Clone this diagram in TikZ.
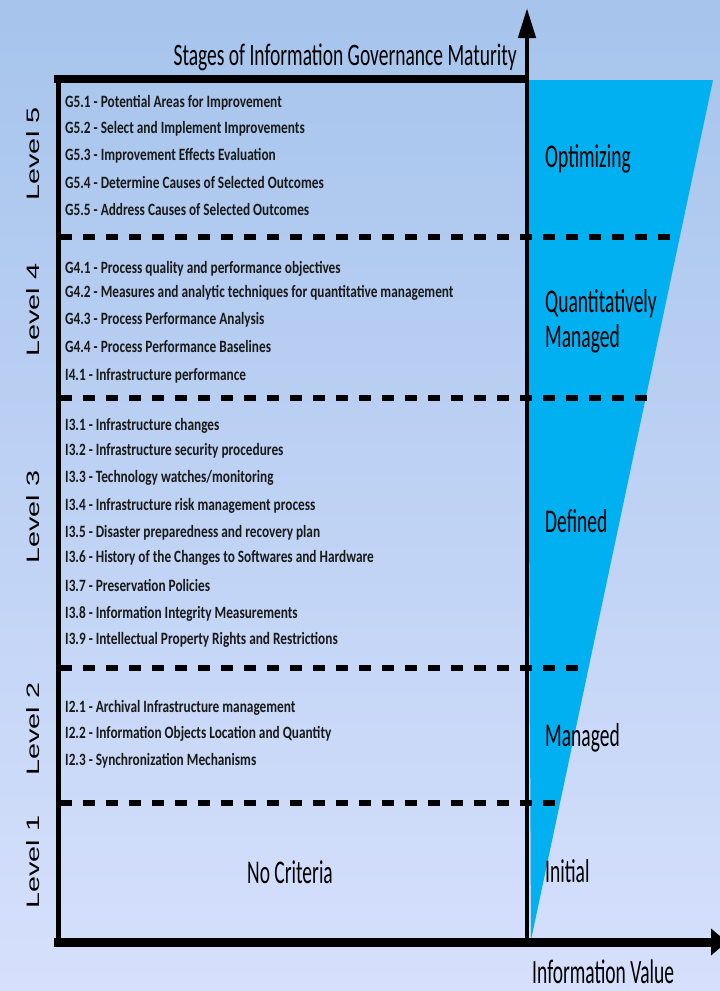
\documentclass[tikz,border=0pt]{standalone}
\usepackage{tikz}
\usetikzlibrary{arrows.meta}
\usepackage{xcolor}
\usepackage{graphicx}
\usepackage{fontspec}
\setmainfont{Carlito}
\newfontfamily\levelfont{Liberation Sans}
\definecolor{bgtop}{RGB}{166,196,236}
\definecolor{bgbot}{RGB}{214,224,252}
\definecolor{valueblue}{RGB}{0,176,240}
\newcommand{\tallish}[2][1.6]{\scalebox{1}[#1]{#2}}
\newcommand{\wideish}[1]{\scalebox{1.6}[1]{#1}}

\begin{document}
\begin{tikzpicture}[
  x=1pt, y=-1pt,
  level/.style={rotate=90, inner sep=0pt, font=\levelfont\fontsize{18}{20}\selectfont},
  item/.style={anchor=base west, inner sep=0pt, text=black!90,
    font=\bfseries\fontsize{13.3}{15}\selectfont},
  stage/.style={anchor=base west, inner sep=0pt, font=\fontsize{19.5}{23}\selectfont},
  divider/.style={line width=6pt, dash pattern=on 12pt off 11pt},
  >={Triangle[length=30pt,width=17pt]}
]
  \useasboundingbox (0,0) rectangle (720,991);
  \shade[top color=bgtop, bottom color=bgbot] (0,0) rectangle (720,991);

  % value wedge
  \fill[valueblue] (527,80) -- (713,80) -- (531,940) -- cycle;

  % level dividers
  \foreach \y/\xe in {237/680, 398/648, 668/587, 803/558}
    \draw[divider] (60,\y) -- (\xe,\y);

  % frame and axes
  \coordinate (topleft) at (58,79);
  \coordinate (origin) at (527,942);
  \draw[line width=8pt] (54,79) -- (529,79);
  \draw[line width=5pt] (58,76) -- (58,946);
  \draw[line width=4.5pt, ->] (527,946) -- (527,8);
  \draw[line width=9pt, -{Triangle[length=16pt,width=26pt]}] (54,942) -- (727,942);

  % titles
  \node[stage, anchor=base east] (title) at (517,65)
    {\tallish{Stages of Information Governance Maturity}};
  \node[stage] (xlabel) at (532,983) {\tallish[1.75]{Information Value}};

  % level names
  \node[level] (lv5) at (33,154) {\wideish{Level 5}};
  \node[level] (lv4) at (33,310) {\wideish{Level 4}};
  \node[level] (lv3) at (33,517) {\wideish{Level 3}};
  \node[level] (lv2) at (33,729) {\wideish{Level 2}};
  \node[level] (lv1) at (33,862) {\wideish{Level 1}};

  % maturity stages
  \node[stage] (optimizing) at (545,167) {\tallish[1.7]{Optimizing}};
  \node[stage] (quant) at (545,312) {\tallish[1.7]{Quantitatively}};
  \node[stage] (quantm) at (545,347) {\tallish[1.7]{Managed}};
  \node[stage] (defined) at (545,532) {\tallish[1.7]{Defined}};
  \node[stage] (managed) at (545,746) {\tallish[1.7]{Managed}};
  \node[stage] (initial) at (545,882) {\tallish[1.7]{Initial}};
  \node[stage, anchor=base] (nocrit) at (290,883) {\tallish[1.7]{No Criteria}};

  % level 5
  \node[item] (g51) at (65,107) {\tallish[1.3]{G5.1 - Potential Areas for Improvement}};
  \node[item] (g52) at (65,133) {\tallish[1.3]{G5.2 - Select and Implement Improvements}};
  \node[item] (g53) at (65,160) {\tallish[1.3]{G5.3 - Improvement Effects Evaluation}};
  \node[item] (g54) at (65,188) {\tallish[1.3]{G5.4 - Determine Causes of Selected Outcomes}};
  \node[item] (g55) at (65,215) {\tallish[1.3]{G5.5 - Address Causes of Selected Outcomes}};

  % level 4
  \node[item] (g41) at (65,273) {\tallish[1.3]{G4.1 - Process quality and performance objectives}};
  \node[item] (g42) at (65,297) {\tallish[1.3]{G4.2 - Measures and analytic techniques for quantitative management}};
  \node[item] (g43) at (65,324) {\tallish[1.3]{G4.3 - Process Performance Analysis}};
  \node[item] (g44) at (65,352) {\tallish[1.3]{G4.4 - Process Performance Baselines}};
  \node[item] (i41) at (65,380) {\tallish[1.3]{I4.1 - Infrastructure performance}};

  % level 3
  \node[item] (i31) at (65,430) {\tallish[1.3]{I3.1 - Infrastructure changes}};
  \node[item] (i32) at (65,455) {\tallish[1.3]{I3.2 - Infrastructure security procedures}};
  \node[item] (i33) at (65,482) {\tallish[1.3]{I3.3 - Technology watches/monitoring}};
  \node[item] (i34) at (65,510) {\tallish[1.3]{I3.4 - Infrastructure risk management process}};
  \node[item] (i35) at (65,537) {\tallish[1.3]{I3.5 - Disaster preparedness and recovery plan}};
  \node[item] (i36) at (65,562) {\tallish[1.3]{I3.6 - History of the Changes to Softwares and Hardware}};
  \node[item] (i37) at (65,591) {\tallish[1.3]{I3.7 - Preservation Policies}};
  \node[item] (i38) at (65,618) {\tallish[1.3]{I3.8 - Information Integrity Measurements}};
  \node[item] (i39) at (65,644) {\tallish[1.3]{I3.9 - Intellectual Property Rights and Restrictions}};

  % level 2
  \node[item] (i21) at (65,712) {\tallish[1.3]{I2.1 - Archival Infrastructure management}};
  \node[item] (i22) at (65,738) {\tallish[1.3]{I2.2 - Information Objects Location and Quantity}};
  \node[item] (i23) at (65,765) {\tallish[1.3]{I2.3 - Synchronization Mechanisms}};
\end{tikzpicture}
\end{document}
